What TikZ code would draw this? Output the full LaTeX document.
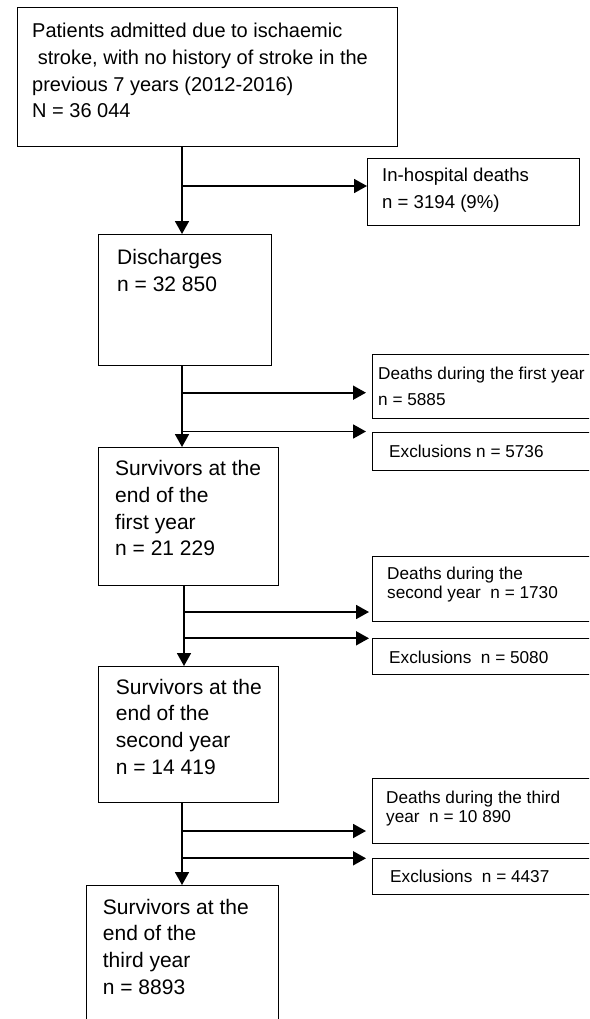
\documentclass[tikz,border=0pt]{standalone}
\usepackage{fontspec}
\setmainfont{Liberation Sans}
\usetikzlibrary{positioning,arrows.meta}

\begin{document}
\begin{tikzpicture}[x=1pt, y=-1pt,
    frame/.style={draw, line width=1.3pt, anchor=north west, inner sep=0pt},
    bigtxt/.style={anchor=north west, inner sep=0pt, align=left, font=\fontsize{21}{26.7}\selectfont},
    toptxt/.style={bigtxt, font=\fontsize{20}{26.7}\selectfont},
    smalltxt/.style={anchor=north west, inner sep=0pt, align=left, font=\fontsize{17.2}{26}\selectfont},
    tighttxt/.style={smalltxt, font=\fontsize{17.2}{18.4}\selectfont},
    arr/.style={-{Triangle[length=13pt,width=14pt]}, line width=1.8pt}
  ]
    \useasboundingbox (0,0) rectangle (589,1019);
    \clip (0,0) rectangle (589,1019);
    \fill[white] (0,0) rectangle (589,1019);

    \node[frame, minimum width=380pt, minimum height=139pt] at (17,7) (adm) {};
    \node[toptxt] at (32,23) (admt) {Patients admitted due to ischaemic\\\ stroke, with no history of stroke in the\\previous 7 years (2012-2016)\\N = 36 044};
    \node[frame, minimum width=212pt, minimum height=67pt] at (367,158) (hosp) {};
    \node[smalltxt, font=\fontsize{18.6}{27}\selectfont] at (382,167.4) (hospt) {In-hospital deaths\\n = 3194 (9\%)};
    \node[frame, minimum width=173pt, minimum height=131pt] at (98,234) (dis) {};
    \node[bigtxt] at (117,249) (dist) {Discharges\\n = 32 850};

    \node[frame, minimum width=240pt, minimum height=64pt] at (372,354) (die1) {};
    \node[smalltxt] at (378,367) (die1t) {Deaths during the first year\\n = 5885};
    \node[frame, minimum width=240pt, minimum height=38pt] at (372,432) (exc1) {};
    \node[smalltxt] at (389,444.4) (exc1t) {Exclusions n = 5736};
    \node[frame, minimum width=180pt, minimum height=138pt] at (98,447) (sur1) {};
    \node[bigtxt] at (115,460.4) (sur1t) {Survivors at the\\end of the\\first year\\n = 21 229};

    \node[frame, minimum width=240pt, minimum height=65pt] at (372,556) (die2) {};
    \node[tighttxt] at (387,567) (die2t) {Deaths during the\\second year\ \ n = 1730};
    \node[frame, minimum width=240pt, minimum height=36pt] at (372,638) (exc2) {};
    \node[smalltxt] at (389,650.4) (exc2t) {Exclusions\ \ n = 5080};
    \node[frame, minimum width=180pt, minimum height=136pt] at (98,666) (sur2) {};
    \node[bigtxt] at (115.7,678.7) (sur2t) {Survivors at the\\end of the\\second year\\n = 14 419};

    \node[frame, minimum width=240pt, minimum height=65pt] at (372,778) (die3) {};
    \node[tighttxt] at (386,791) (die3t) {Deaths during the third\\year\ \ n = 10 890};
    \node[frame, minimum width=240pt, minimum height=36pt] at (372,858) (exc3) {};
    \node[smalltxt] at (390,869.4) (exc3t) {Exclusions\ \ n = 4437};
    \node[frame, minimum width=192pt, minimum height=160pt] at (86,885) (sur3) {};
    \node[bigtxt] at (102.7,898.7) (sur3t) {Survivors at the\\end of the\\third year\\n = 8893};

    \coordinate (k1) at (182,186);
    \coordinate (k2) at (182,392.7);
    \coordinate (k3) at (182,431.5);
    \coordinate (k4) at (184,612);
    \coordinate (k5) at (184,638.3);
    \coordinate (k6) at (182,831);
    \coordinate (k7) at (182,858.3);

    \draw[arr] (182,0 |- adm.south) -- (182,0 |- dis.north);
    \draw[arr] (k1) -- (k1 -| hosp.west);
    \draw[arr] (182,0 |- dis.south) -- (182,0 |- sur1.north);
    \draw[arr, shorten >=6pt] (k2) -- (k2 -| die1.west);
    \draw[arr, shorten >=6pt] (k3) -- (k3 -| exc1.west);
    \draw[arr] (184,0 |- sur1.south) -- (184,0 |- sur2.north);
    \draw[arr, shorten >=3pt] (k4) -- (k4 -| die2.west);
    \draw[arr, shorten >=3pt] (k5) -- (k5 -| exc2.west);
    \draw[arr] (182,0 |- sur2.south) -- (182,0 |- sur3.north);
    \draw[arr, shorten >=6pt] (k6) -- (k6 -| die3.west);
    \draw[arr, shorten >=6pt] (k7) -- (k7 -| exc3.west);
\end{tikzpicture}
\end{document}
